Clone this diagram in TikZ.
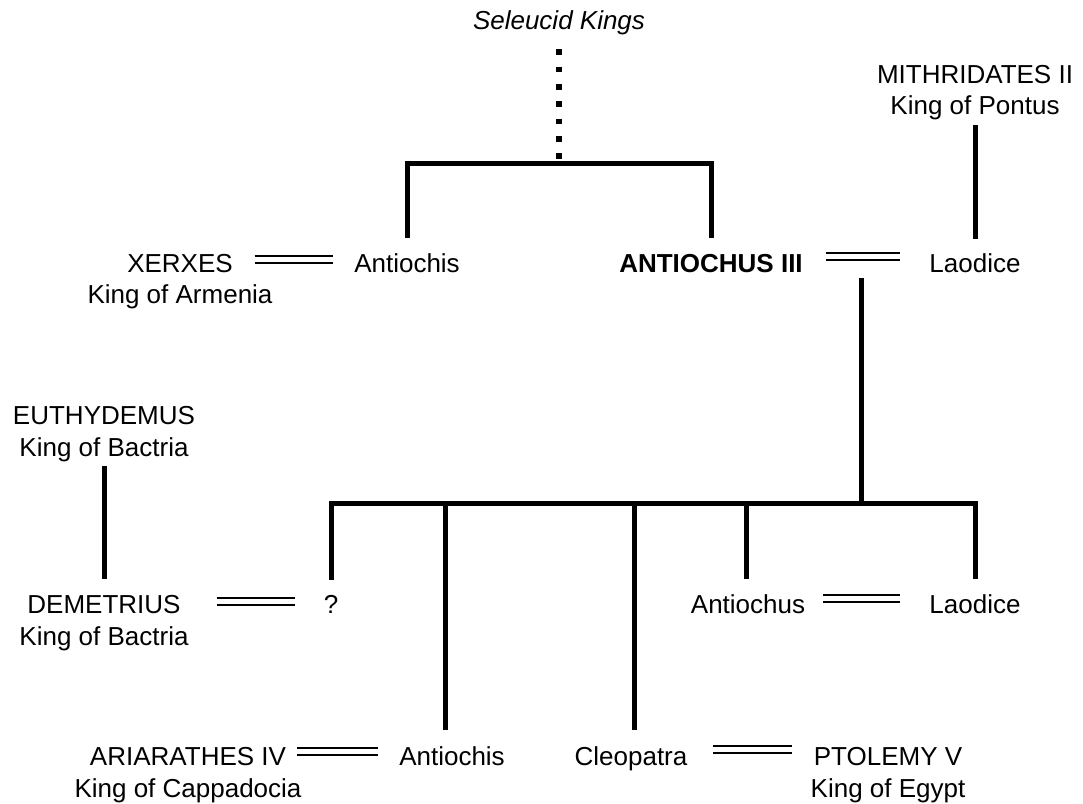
\documentclass[tikz,border=0pt]{standalone}
\usepackage{fontspec}
\setmainfont{Liberation Sans}
\begin{document}
\begin{tikzpicture}[x=1pt,y=-1pt,
  namefont/.style={font=\fontsize{26}{31}\selectfont},
  person/.style={namefont, inner sep=0pt, outer sep=0pt, anchor=base},
  kin/.style={line width=5pt, line join=miter},
  wed/.style={double, line width=2pt, double distance=5pt},
  dotline/.style={line width=6pt, dash pattern=on 5.7pt off 11.6pt}]
\useasboundingbox (0,0) rectangle (1083,803);

% ---- people ----
\node[person, font=\fontsize{26}{31}\selectfont\itshape] (seleucid) at (559,29) {Seleucid Kings};

\node[person] (xerxes) at (180,272.5) {XERXES};
\node[person] (xerxesT) at ([yshift=-30.5pt]xerxes.base) {King of Armenia};
\node[person] (antiochisA) at (407,272.5) {Antiochis};
\node[person, font=\fontsize{26}{31}\selectfont\bfseries] (ant3) at (711,272.5) {ANTIOCHUS III};
\node[person] (mith) at (975,83) {MITHRIDATES II};
\node[person] (mithT) at ([yshift=-31.5pt]mith.base) {King of Pontus};
\node[person] (laodA) at (975,272.5) {Laodice};

\node[person] (euthy) at (104,424.5) {EUTHYDEMUS};
\node[person] (euthyT) at ([yshift=-31.5pt]euthy.base) {King of Bactria};
\node[person] (demet) at (104,613) {DEMETRIUS};
\node[person] (demetT) at ([yshift=-32pt]demet.base) {King of Bactria};
\node[person] (unknown) at (331,613) {?};
\node[person] (antiochus) at (748,613) {Antiochus};
\node[person] (laodB) at (975,613) {Laodice};

\node[person] (ariar) at (188,765) {ARIARATHES IV};
\node[person] (ariarT) at ([yshift=-32pt]ariar.base) {King of Cappadocia};
\node[person] (antiochisB) at (452,765) {Antiochis};
\node[person] (cleo) at (631,765) {Cleopatra};
\node[person] (ptol) at (888,765) {PTOLEMY V};
\node[person] (ptolT) at ([yshift=-32pt]ptol.base) {King of Egypt};

% ---- sibling bars ----
\coordinate (sibbar) at (559,163);
\coordinate (kidbar) at (861,503);

% Seleucid line of descent
\draw[dotline] ([yshift=-15pt]seleucid.south) -- (sibbar);
\draw[kin] ([yshift=16pt]antiochisA.north) |- (sibbar) -| ([yshift=16pt]ant3.north);

% Mithridates to his daughter Laodice
\path ([yshift=-5.5pt]mithT.south) coordinate (p1)
      ([yshift=15pt]laodA.north) coordinate (q1);
\draw[kin] (p1) -- (p1 |- q1);

% Euthydemus to Demetrius
\path ([yshift=-4.5pt]euthyT.south) coordinate (p2)
      ([yshift=15.5pt]demet.north) coordinate (q2);
\draw[kin] (p2) -- (p2 |- q2);

% children of Antiochus III and Laodice
\path (kidbar |- ant3.south) coordinate (k3);
\draw[kin] ([yshift=-5pt]k3) -- (kidbar);
\draw[kin] ([yshift=15pt]unknown.north) |- (kidbar) -| ([yshift=15pt]laodB.north);
\path ([xshift=-2pt,yshift=15pt]antiochus.north) coordinate (c1);
\draw[kin] (c1) -- (c1 |- kidbar);
\path ([xshift=-7pt,yshift=16pt]antiochisB.north) coordinate (c2);
\draw[kin] (c2) -- (c2 |- kidbar);
\path ([xshift=3pt,yshift=16pt]cleo.north) coordinate (c3);
\draw[kin] (c3) -- (c3 |- kidbar);

% ---- marriages ----
\draw[wed, shorten <=22pt, shorten >=21pt]
  ([yshift=12.7pt]xerxes.base east) -- ([yshift=12.7pt]antiochisA.base west);
\draw[wed, shorten <=23pt, shorten >=29pt]
  ([yshift=16pt]ant3.base east) -- ([yshift=16pt]laodA.base west);
\draw[wed, shorten <=36pt, shorten >=29pt]
  ([yshift=12pt]demet.base east) -- ([yshift=12pt]unknown.base west);
\draw[wed, shorten <=18pt, shorten >=29.5pt]
  ([yshift=15pt]antiochus.base east) -- ([yshift=15pt]laodB.base west);
\draw[wed, shorten <=11pt, shorten >=21pt]
  ([yshift=14pt]ariar.base east) -- ([yshift=14pt]antiochisB.base west);
\draw[wed, shorten <=25.5pt, shorten >=21.5pt]
  ([yshift=16pt]cleo.base east) -- ([yshift=16pt]ptol.base west);
\end{tikzpicture}
\end{document}
